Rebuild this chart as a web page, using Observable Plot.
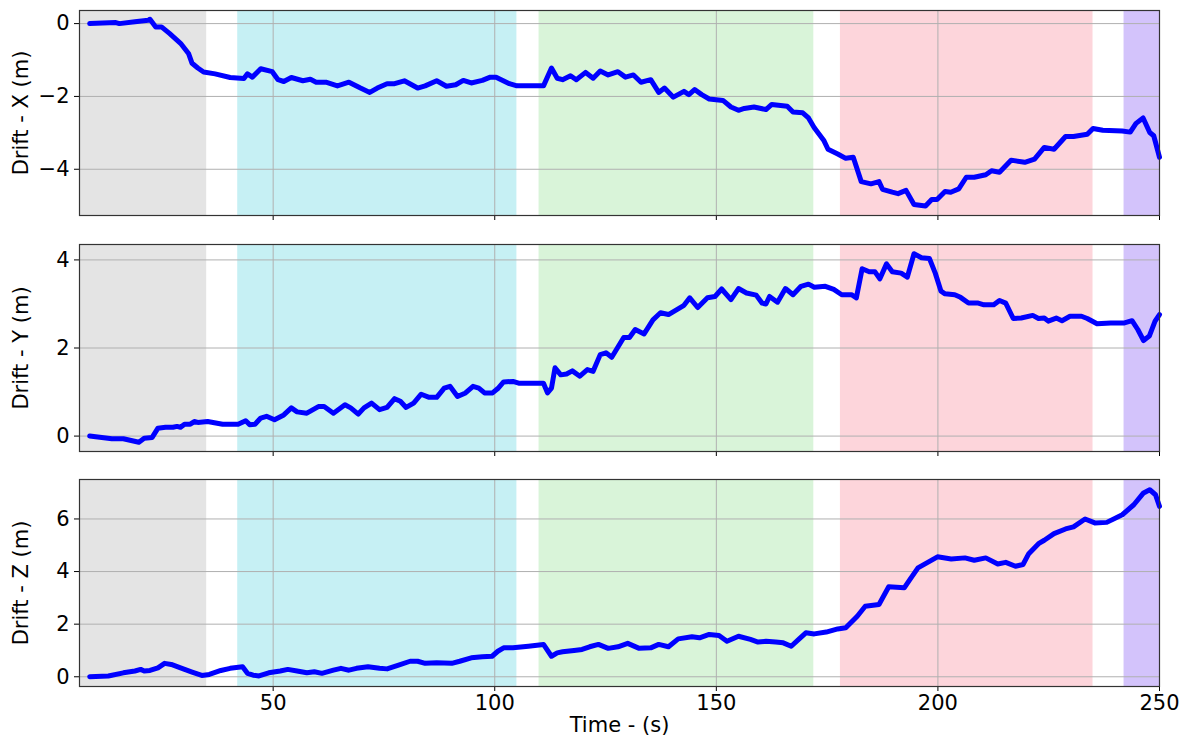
<!DOCTYPE html>
<html><head><meta charset="utf-8">
<script src="https://cdn.jsdelivr.net/npm/d3@7"></script>
<script src="https://cdn.jsdelivr.net/npm/@observablehq/plot@0.6"></script>
<style>
body{margin:0;background:#fff}
#chart{position:relative;width:1191px;height:744px}
#chart svg{position:absolute;left:0;overflow:visible}
</style>
</head><body><div id="chart"></div>
<script>
// Shaded phases
const spanStarts = [6.3, 42, 110, 178, 242];
const spanEnds   = [35, 105, 172, 235, 250];
const spanColors = ["#e4e4e4", "#c6f0f4", "#d9f4d9", "#fdd5db", "#d3c3fb"];
const xTicks = [50, 100, 150, 200, 250];
const xDomain = [6.3, 250];

// Drift X
const timeX = [8.6,14.5,15.3,18.8,21.8,22.2,23.5,24.8,26.6,29.1,30.9,31.7,33,34.3,36.9,40.3,43.4,44.2,45.3,47.2,49.8,51.1,52.4,54.1,56.7,58.4,59.7,61.9,64.5,67.1,69.7,71.8,73.5,75.7,77.4,79.6,82.6,84.3,86.9,89.1,91.2,92.9,94.7,97.2,99,100.3,103.3,105,111,112.8,114.1,115.3,117.1,118.4,120.5,122.2,123.8,125.6,127.8,129.5,131.3,133,135.2,137,138.3,140.3,142.7,143.8,145.1,146.7,148.4,151.5,153.3,155,156.3,158.5,161.2,162.5,166,167.3,169.5,170.8,172.1,174.3,175.2,177.4,179.2,180.9,182.7,184.9,186.7,187.5,189.7,191,192.8,194.6,197.2,198.6,199.8,201.6,202.9,204.7,206.4,208.2,210.8,212.1,213.9,216.5,219.6,221.8,224,226.2,228.8,230.6,233.7,235,237.2,241.6,243.4,244.7,246.3,247.8,248.7,250];
const driftX = [0,0.03,0,0.05,0.09,0.12,-0.09,-0.09,-0.27,-0.54,-0.82,-1.09,-1.22,-1.33,-1.38,-1.48,-1.51,-1.38,-1.47,-1.24,-1.32,-1.54,-1.59,-1.48,-1.57,-1.53,-1.61,-1.61,-1.71,-1.61,-1.77,-1.89,-1.77,-1.65,-1.65,-1.57,-1.77,-1.71,-1.57,-1.72,-1.68,-1.56,-1.63,-1.56,-1.47,-1.47,-1.65,-1.71,-1.71,-1.22,-1.5,-1.54,-1.43,-1.54,-1.34,-1.5,-1.3,-1.41,-1.32,-1.47,-1.41,-1.61,-1.54,-1.89,-1.77,-2.02,-1.86,-1.95,-1.81,-1.95,-2.07,-2.11,-2.29,-2.38,-2.33,-2.29,-2.36,-2.22,-2.27,-2.43,-2.45,-2.59,-2.86,-3.22,-3.45,-3.58,-3.7,-3.67,-4.34,-4.4,-4.34,-4.55,-4.63,-4.67,-4.58,-4.97,-5.01,-4.83,-4.83,-4.61,-4.63,-4.54,-4.22,-4.22,-4.15,-4.04,-4.08,-3.75,-3.81,-3.72,-3.4,-3.45,-3.1,-3.1,-3.04,-2.88,-2.93,-2.95,-2.98,-2.74,-2.59,-2.99,-3.08,-3.67];

// Drift Y
const timeY = [8.6,13.6,16.2,19.7,20.9,22.7,24,25.7,27.4,28.3,29.1,30,31.3,32.2,33,35.2,38.6,42.1,43.8,44.7,45.9,47.2,48.5,50.3,52.4,54.1,55.4,57.6,60.2,61.5,63.6,66.2,67.5,69.2,70.5,72.2,74,75.7,77.4,78.7,80,81.7,83.4,85.2,86.9,88.6,89.9,91.6,93.4,95.1,96.4,97.7,99.5,100.7,102,104.1,105.4,111,111.9,112.8,113.6,114.9,116.2,117.5,119.2,120.9,122.2,123.8,125.1,126.4,129.1,130.4,131.7,133.7,135.7,137.4,139.2,142.7,144,145.8,148,149.7,151.2,153.3,155,156.8,159,160.3,161.2,162,163.8,165.6,167.3,169.1,170.8,172.1,174.6,176.5,178.3,180.5,181.6,182.9,184.5,185.8,186.9,188.4,189.7,191.7,193.1,194.6,196.3,198.1,199.4,200.7,201.6,203.8,205.1,206.9,209.1,210.4,212.6,213.9,215.3,217,218.8,221.4,222.7,224,224.9,226.7,228,229.8,232.4,233.7,235.9,239,242.1,243.8,245.1,246.4,247.7,249,250];
const driftY = [0,-0.06,-0.06,-0.14,-0.05,-0.03,0.18,0.2,0.2,0.22,0.2,0.27,0.27,0.33,0.31,0.33,0.27,0.27,0.35,0.26,0.27,0.41,0.45,0.37,0.48,0.64,0.55,0.52,0.67,0.67,0.52,0.71,0.64,0.5,0.64,0.75,0.6,0.65,0.85,0.79,0.65,0.75,0.95,0.88,0.88,1.09,1.13,0.9,0.98,1.13,1.09,0.98,0.98,1.08,1.23,1.24,1.2,1.2,0.98,1.09,1.55,1.39,1.41,1.48,1.36,1.51,1.47,1.85,1.89,1.79,2.24,2.24,2.42,2.32,2.64,2.8,2.76,2.97,3.14,2.92,3.14,3.17,3.34,3.1,3.35,3.25,3.2,3.02,3.0,3.17,3.04,3.35,3.21,3.4,3.45,3.38,3.4,3.33,3.21,3.21,3.14,3.8,3.73,3.73,3.57,3.91,3.73,3.7,3.61,4.14,4.05,4.03,3.7,3.29,3.23,3.21,3.15,3.02,3.02,2.98,2.98,3.08,3.02,2.67,2.68,2.74,2.67,2.68,2.61,2.68,2.62,2.72,2.72,2.67,2.55,2.57,2.57,2.62,2.42,2.17,2.27,2.61,2.76];

// Drift Z
const timeZ = [8.6,12.8,16.2,18.8,20.1,20.9,22.2,24,25.5,27,29.1,31.7,33.9,35.6,38.2,40.3,43.1,44.2,45.5,46.8,49,51.6,53.3,55.4,57.6,59.3,61,63.6,65.3,67.1,68.8,71.4,74,75.7,78.3,80.9,82.6,84.3,86.9,90.3,92.1,94.7,97.2,99.4,100.7,102,104.1,107.6,111,112.8,114.1,115.3,117.9,119.7,121.4,123.4,125.6,127.8,130,132.6,135.2,137,139.2,141.4,144.5,146.2,148.4,150.6,152.4,155,157.7,159.4,161.2,163.4,165.1,166.9,168.7,170.2,172.1,174.8,177.4,179.2,181.8,183.6,186.7,188.9,192.4,193.7,195.5,197.7,199.9,203,206.1,208.2,210.8,213.5,215.3,217.5,219.2,220.5,222.7,224,226.2,228.8,230.6,233.2,235.4,238.1,241.6,244.2,246.4,247.8,249.1,250];
const driftZ = [0,0.03,0.15,0.22,0.28,0.22,0.24,0.34,0.51,0.47,0.34,0.18,0.05,0.09,0.24,0.32,0.38,0.13,0.06,0.03,0.15,0.22,0.28,0.22,0.15,0.19,0.13,0.25,0.32,0.25,0.32,0.38,0.32,0.3,0.44,0.59,0.59,0.51,0.53,0.51,0.59,0.72,0.76,0.78,0.97,1.1,1.1,1.16,1.23,0.78,0.91,0.95,1.0,1.04,1.14,1.23,1.08,1.14,1.27,1.08,1.1,1.23,1.14,1.44,1.52,1.48,1.61,1.57,1.35,1.54,1.42,1.32,1.35,1.32,1.29,1.16,1.44,1.67,1.63,1.7,1.82,1.86,2.3,2.68,2.75,3.42,3.38,3.7,4.14,4.35,4.56,4.48,4.52,4.43,4.52,4.29,4.35,4.2,4.27,4.68,5.06,5.19,5.44,5.62,5.7,6.0,5.85,5.87,6.16,6.54,6.99,7.11,6.92,6.48];

const FONT = "DejaVu Sans";
const FS = 21;
const spans = spanStarts.map((s, i) => ({start: s, end: spanEnds[i], color: spanColors[i]}));
const fmt = d3.format("~g");

function panel({times, values, yDomain, yTicks, label, top, height, marginBottom, bottom}) {
  const data = times.map((t, i) => ({t, v: values[i]}));
  const marks = [
    Plot.rect(spans, {x1: "start", x2: "end", fill: "color"}),
    Plot.ruleX(xTicks, {stroke: "#b0b0b0", strokeWidth: 1}),
    Plot.ruleY(yTicks, {stroke: "#b0b0b0", strokeWidth: 1}),
    Plot.line(data, {x: "t", y: "v", stroke: "#0000ff", strokeWidth: 5, strokeLinejoin: "round", strokeLinecap: "round"}),
    Plot.frame({stroke: "#333", strokeWidth: 1.2}),
    Plot.text([label], {frameAnchor: "left", rotate: -90, dx: -58, fontSize: FS, fill: "#000", textAnchor: "middle"})
  ];
  if (bottom) marks.push(Plot.text(["Time - (s)"], {frameAnchor: "bottom", dy: 45, fontSize: FS, fill: "#000", textAnchor: "middle"}));
  const svg = Plot.plot({
    width: 1191, height, marginLeft: 79, marginRight: 32, marginTop: 10, marginBottom,
    style: {fontFamily: FONT, fontSize: FS + "px", color: "#000", background: "transparent", overflow: "visible"},
    x: {domain: xDomain, ticks: xTicks, tickSize: 5, tickPadding: 4, label: null,
        tickFormat: bottom ? fmt : (() => "")},
    y: {domain: yDomain, ticks: yTicks, tickSize: 5, tickPadding: 5, label: null, tickFormat: fmt},
    color: {type: "identity"},
    marks
  });
  svg.style.top = top + "px";
  return svg;
}

const root = document.getElementById("chart");
root.appendChild(panel({times: timeX, values: driftX, yDomain: [-5.27, 0.36], yTicks: [-4, -2, 0], label: "Drift - X (m)", top: 0, height: 229, marginBottom: 14, bottom: false}));
root.appendChild(panel({times: timeY, values: driftY, yDomain: [-0.35, 4.35], yTicks: [0, 2, 4], label: "Drift - Y (m)", top: 234, height: 231, marginBottom: 14, bottom: false}));
root.appendChild(panel({times: timeZ, values: driftZ, yDomain: [-0.37, 7.5], yTicks: [0, 2, 4, 6], label: "Drift - Z (m)", top: 469, height: 275, marginBottom: 58, bottom: true}));
</script>
</body></html>
